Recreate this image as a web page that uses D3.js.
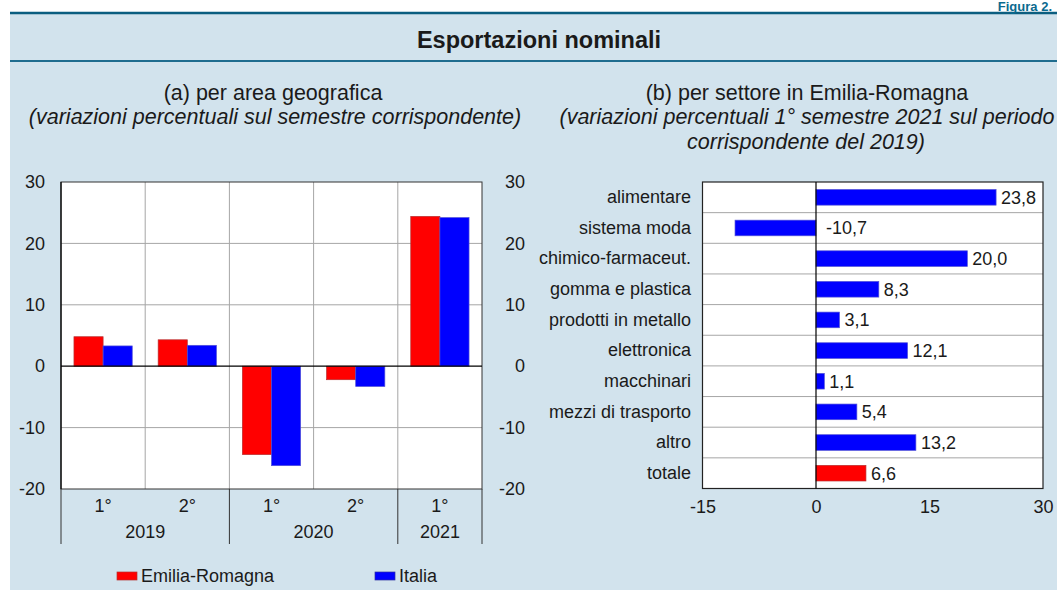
<!DOCTYPE html>
<meta charset="utf-8">
<style>
  body { margin: 0; background: #fff; }
  text { font-family: "Liberation Sans", Arial, sans-serif; fill: #1a1a1a; }
</style>
<svg id="chart" width="1057" height="590"></svg>
<script src="https://d3js.org/d3.v7.min.js"></script>
<script>

// --- data (a): per area geografica
var semestri = ["1°", "2°", "1°", "2°", "1°"];
var anniSemestre = ["2019", "2019", "2020", "2020", "2021"];
var anni = ["2019", "2020", "2021"];
var emiliaRomagna = [4.8, 4.3, -14.4, -2.2, 24.4];
var italia = [3.3, 3.4, -16.2, -3.3, 24.2];
var ticksA = [-20, -10, 0, 10, 20, 30];

// --- data (b): per settore
var settori = ["alimentare", "sistema moda", "chimico-farmaceut.", "gomma e plastica",
  "prodotti in metallo", "elettronica", "macchinari", "mezzi di trasporto", "altro", "totale"];
var variazioni = [23.8, -10.7, 20.0, 8.3, 3.1, 12.1, 1.1, 5.4, 13.2, 6.6];
var ticksB = [-15, 0, 15, 30];

var RED = "#ff0000", BLUE = "#0000ff", GRID = "#a6a6a6";
var FS = "18px";
var it = d3.formatLocale({decimal: ",", thousands: ".", grouping: [3], currency: ["€", ""], minus: "-"});
var fmt = it.format(".1f");
var fmtInt = it.format("d");

var svg = d3.select("#chart");

// panel background + title band
svg.append("rect").attr("x", 10).attr("y", 13).attr("width", 1047).attr("height", 577).attr("fill", "#d2e3ed");
svg.append("line").attr("x1", 10).attr("x2", 1057).attr("y1", 13).attr("y2", 13)
  .attr("stroke", "#0b5e80").attr("stroke-width", 2.5);
svg.append("line").attr("x1", 10).attr("x2", 1057).attr("y1", 61).attr("y2", 61)
  .attr("stroke", "#1f6d8f").attr("stroke-width", 2);
svg.append("text").attr("x", 1052).attr("y", 10.5).attr("text-anchor", "end")
  .style("font-weight", "bold").style("font-size", "13px").style("fill", "#0b6a8f").text("Figura 2.");
svg.append("text").attr("x", 539).attr("y", 48).attr("text-anchor", "middle")
  .style("font-weight", "bold").style("font-size", "23.5px").text("Esportazioni nominali");

// subtitles
function sub(x, y, txt, italic) {
  svg.append("text").attr("x", x).attr("y", y).attr("text-anchor", "middle")
    .style("font-size", "21.5px").style("font-style", italic ? "italic" : "normal").text(txt);
}
sub(273, 100, "(a) per area geografica", false);
sub(275, 124, "(variazioni percentuali sul semestre corrispondente)", true);
sub(807, 100, "(b) per settore in Emilia-Romagna", false);
sub(807, 124, "(variazioni percentuali 1° semestre 2021 sul periodo", true);
sub(806, 149, "corrispondente del 2019)", true);

// ================= chart (a) =================
var L = {x0: 61, x1: 482, y0: 182, y1: 489};
var idx = d3.range(semestri.length);
var x0 = d3.scaleBand().domain(idx).range([L.x0, L.x1]).padding(0);
var x1 = d3.scaleBand().domain(["er", "it"]).range([0, x0.bandwidth()]).paddingInner(0).paddingOuter(0.445);
var y = d3.scaleLinear().domain([-20, 30]).range([L.y1, L.y0]);

var ga = svg.append("g");
ga.append("rect").attr("x", L.x0).attr("y", L.y0).attr("width", L.x1 - L.x0).attr("height", L.y1 - L.y0).attr("fill", "#fff");

// gridlines
ga.selectAll(".hg").data(ticksA.filter(function(t){ return t !== 0 && t !== -20 && t !== 30; }))
  .enter().append("line")
  .attr("x1", L.x0).attr("x2", L.x1).attr("y1", function(d){ return y(d); }).attr("y2", function(d){ return y(d); })
  .attr("stroke", GRID);
ga.selectAll(".vg").data(idx.slice(1)).enter().append("line")
  .attr("x1", function(d){ return x0(d); }).attr("x2", function(d){ return x0(d); })
  .attr("y1", L.y0).attr("y2", L.y1).attr("stroke", GRID);

// bars
var barsA = [];
idx.forEach(function(i){
  barsA.push({i: i, s: "er", v: emiliaRomagna[i]});
  barsA.push({i: i, s: "it", v: italia[i]});
});
ga.selectAll(".bar").data(barsA).enter().append("rect")
  .attr("x", function(d){ return x0(d.i) + x1(d.s); })
  .attr("width", x1.bandwidth())
  .attr("y", function(d){ return y(Math.max(0, d.v)); })
  .attr("height", function(d){ return Math.abs(y(d.v) - y(0)); })
  .attr("fill", function(d){ return d.s === "er" ? RED : BLUE; })
  .attr("stroke", function(d){ return d.s === "er" ? "#b83030" : "#5050d8"; })
  .attr("stroke-width", 0.7);

// border + zero line
ga.append("rect").attr("x", L.x0).attr("y", L.y0).attr("width", L.x1 - L.x0).attr("height", L.y1 - L.y0)
  .attr("fill", "none").attr("stroke", "#333").attr("stroke-width", 1);
ga.append("line").attr("x1", L.x0).attr("x2", L.x1).attr("y1", y(0)).attr("y2", y(0)).attr("stroke", "#000").attr("stroke-width", 1.2);
ga.append("line").attr("x1", L.x0).attr("x2", L.x0).attr("y1", L.y0).attr("y2", L.y1).attr("stroke", "#000").attr("stroke-width", 1.2);

// y tick labels, both sides
var axL = d3.axisLeft(y).tickValues(ticksA).tickFormat(fmtInt).tickSize(0).tickPadding(0);
var gl = ga.append("g").attr("transform", "translate(45,0)").call(axL);
var gr = ga.append("g").attr("transform", "translate(525,0)").call(axL);
[gl, gr].forEach(function(g){
  g.select(".domain").remove();
  g.selectAll("text").style("font-size", FS).attr("fill", "#1a1a1a").style("font-family", null);
});

// x labels: semestri and years
ga.selectAll(".sem").data(idx).enter().append("text")
  .attr("x", function(d){ return x0(d) + x0.bandwidth() / 2; }).attr("y", 512)
  .attr("text-anchor", "middle").style("font-size", FS).text(function(d){ return semestri[d]; });
var yearSpans = anni.map(function(a){
  var ii = idx.filter(function(i){ return anniSemestre[i] === a; });
  return {a: a, x0: x0(ii[0]), x1: x0(ii[ii.length - 1]) + x0.bandwidth()};
});
ga.selectAll(".yr").data(yearSpans).enter().append("text")
  .attr("x", function(d){ return (d.x0 + d.x1) / 2; }).attr("y", 538)
  .attr("text-anchor", "middle").style("font-size", FS).text(function(d){ return d.a; });
var seps = [yearSpans[0].x0].concat(yearSpans.map(function(d){ return d.x1; }));
ga.selectAll(".sep").data(seps).enter().append("line")
  .attr("x1", function(d){ return d; }).attr("x2", function(d){ return d; })
  .attr("y1", L.y1).attr("y2", 544).attr("stroke", "#333");

// legend
var legend = [{label: "Emilia-Romagna", c: RED, s: "#b83030", x: 117}, {label: "Italia", c: BLUE, s: "#3030a0", x: 375}];
var lg = svg.selectAll(".lg").data(legend).enter().append("g");
lg.append("rect").attr("x", function(d){ return d.x; }).attr("y", 572).attr("width", 20).attr("height", 8)
  .attr("fill", function(d){ return d.c; }).attr("stroke", function(d){ return d.s; }).attr("stroke-width", 0.7);
lg.append("text").attr("x", function(d){ return d.x + 24; }).attr("y", 582).style("font-size", FS)
  .text(function(d){ return d.label; });

// ================= chart (b) =================
var R = {x0: 702.5, x1: 1043, y0: 182, y1: 488.5};
var xb = d3.scaleLinear().domain([-15, 30]).range([R.x0, R.x1]);
var yb = d3.scaleBand().domain(settori).range([R.y0, R.y1]).padding(0);
var bh = yb.bandwidth() * 0.51;

var gb = svg.append("g");
gb.append("rect").attr("x", R.x0).attr("y", R.y0).attr("width", R.x1 - R.x0).attr("height", R.y1 - R.y0).attr("fill", "#fff");
gb.selectAll(".rg").data(settori.slice(1)).enter().append("line")
  .attr("x1", R.x0).attr("x2", R.x1).attr("y1", function(d){ return yb(d); }).attr("y2", function(d){ return yb(d); })
  .attr("stroke", GRID);

var barsB = settori.map(function(s, i){ return {s: s, v: variazioni[i], tot: s === "totale"}; });
gb.selectAll(".bar").data(barsB).enter().append("rect")
  .attr("x", function(d){ return xb(Math.min(0, d.v)); })
  .attr("width", function(d){ return Math.abs(xb(d.v) - xb(0)); })
  .attr("y", function(d){ return yb(d.s) + (yb.bandwidth() - bh) / 2; })
  .attr("height", bh)
  .attr("fill", function(d){ return d.tot ? RED : BLUE; })
  .attr("stroke", function(d){ return d.tot ? "#b83030" : "#5050d8"; })
  .attr("stroke-width", 0.7);

gb.selectAll(".val").data(barsB).enter().append("text")
  .attr("x", function(d){ return xb(Math.max(0, d.v)) + (d.v < 0 ? 10 : 5); })
  .attr("y", function(d){ return yb(d.s) + yb.bandwidth() / 2; })
  .attr("dy", "0.36em").style("font-size", FS)
  .text(function(d){ return fmt(d.v); });

gb.append("rect").attr("x", R.x0).attr("y", R.y0).attr("width", R.x1 - R.x0).attr("height", R.y1 - R.y0)
  .attr("fill", "none").attr("stroke", "#222").attr("stroke-width", 1.2);
gb.append("line").attr("x1", xb(0)).attr("x2", xb(0)).attr("y1", R.y0).attr("y2", R.y1).attr("stroke", "#000").attr("stroke-width", 1.2);

// category labels
var ayb = gb.append("g").attr("transform", "translate(691,0)").call(d3.axisLeft(yb).tickSize(0).tickPadding(0));
ayb.select(".domain").remove();
ayb.selectAll("text").style("font-size", FS).attr("fill", "#1a1a1a").style("font-family", null);

// x tick labels
var axb = gb.append("g").attr("transform", "translate(0,500)")
  .call(d3.axisBottom(xb).tickValues(ticksB).tickFormat(fmtInt).tickSize(0).tickPadding(0));
axb.select(".domain").remove();
axb.selectAll("text").style("font-size", FS).attr("fill", "#1a1a1a").style("font-family", null);

</script>
